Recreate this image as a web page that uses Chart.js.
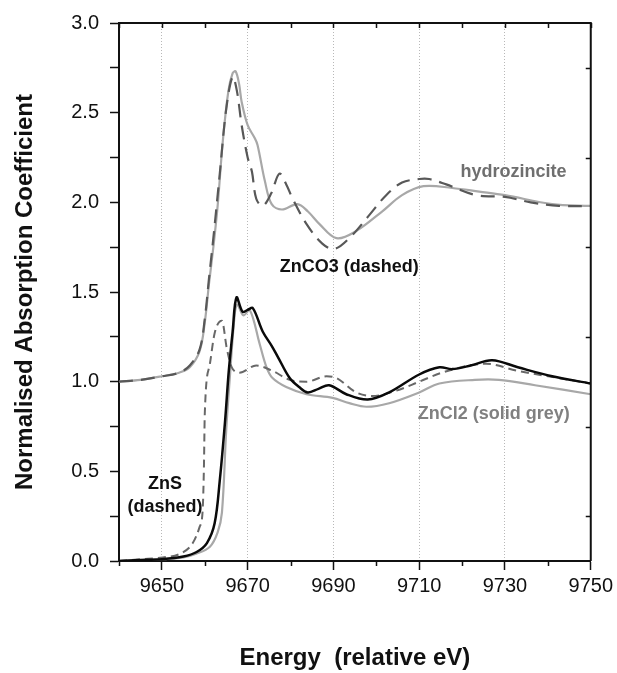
<!DOCTYPE html>
<html>
<head>
<meta charset="utf-8">
<script src="https://cdn.jsdelivr.net/npm/chart.js@4.4.1/dist/chart.umd.min.js"></script>
<style>
  body { margin: 0; background: #fff; }
  #wrap { width: 617px; height: 673px; }
</style>
</head>
<body>
<div id="wrap"><canvas id="xanes" width="617" height="673"></canvas></div>
<script>
// Zn K-edge spectra, energy (eV) vs normalised absorption
// upper pair is offset by +1
const hydrozinciteE = [9640, 9645, 9650, 9654, 9656.5, 9658.8, 9660, 9661, 9662, 9663, 9664.2, 9665.5, 9666.5, 9667.2, 9668, 9668.6, 9670, 9671.6, 9672.3, 9674, 9675.6, 9678, 9681.6, 9684, 9686.7, 9690.7, 9695.3, 9701.4, 9706, 9711, 9717.7, 9724, 9730, 9741, 9750]
const hydrozinciteMu = [1.00, 1.01, 1.03, 1.05, 1.08, 1.17, 1.33, 1.55, 1.75, 1.98, 2.34, 2.62, 2.72, 2.73, 2.66, 2.56, 2.43, 2.36, 2.32, 2.12, 1.99, 1.96, 1.99, 1.95, 1.88, 1.80, 1.84, 1.95, 2.04, 2.09, 2.08, 2.06, 2.04, 1.99, 1.98]

const znco3E = [9640, 9645, 9650, 9654, 9656.5, 9658.8, 9660, 9661, 9662, 9663.5, 9665, 9666.5, 9667.5, 9668.6, 9670, 9671, 9672, 9673.5, 9675.5, 9677.4, 9679, 9680.5, 9683.7, 9687.4, 9690.2, 9693.7, 9698.4, 9702.3, 9706, 9710, 9712.3, 9716.3, 9723.3, 9730, 9736, 9742.6, 9750]
const znco3Mu = [1.00, 1.01, 1.03, 1.05, 1.09, 1.18, 1.35, 1.58, 1.80, 2.16, 2.52, 2.70, 2.62, 2.43, 2.25, 2.17, 2.02, 1.98, 2.05, 2.16, 2.10, 2.02, 1.88, 1.77, 1.74, 1.80, 1.93, 2.04, 2.11, 2.13, 2.13, 2.10, 2.04, 2.03, 2.00, 1.98, 1.98]

const blackE = [9640, 9645, 9650, 9655, 9658.1, 9660.5, 9662.3, 9663.5, 9664.7, 9665.6, 9666.5, 9667.4, 9668.8, 9670, 9671.2, 9673.5, 9675.6, 9677, 9679.8, 9682, 9684, 9686.5, 9689, 9693, 9698, 9703, 9710, 9714.7, 9717.7, 9722, 9727, 9733, 9741, 9750]
const blackMu = [0.00, 0.005, 0.01, 0.025, 0.05, 0.10, 0.21, 0.45, 0.77, 1.06, 1.28, 1.47, 1.39, 1.40, 1.41, 1.28, 1.20, 1.14, 1.02, 0.97, 0.94, 0.96, 0.98, 0.93, 0.90, 0.94, 1.04, 1.08, 1.07, 1.09, 1.12, 1.08, 1.03, 0.99]

const zncl2E = [9640, 9650, 9655, 9658, 9661.2, 9663, 9664, 9665, 9665.8, 9667, 9667.6, 9669, 9670.5, 9672.8, 9674.4, 9675.8, 9679, 9683.7, 9689.8, 9693.7, 9697.7, 9703, 9710, 9714.7, 9723, 9728.6, 9737, 9750]
const zncl2Mu = [0.00, 0.01, 0.02, 0.04, 0.08, 0.16, 0.27, 0.73, 1.01, 1.38, 1.43, 1.37, 1.40, 1.21, 1.08, 1.02, 0.97, 0.93, 0.91, 0.88, 0.86, 0.88, 0.94, 0.99, 1.01, 1.01, 0.98, 0.93]

const znsE = [9640, 9645, 9650.2, 9654.2, 9657.2, 9658.8, 9659.5, 9659.8, 9660, 9661.2, 9662.3, 9664, 9665.1, 9666.3, 9668.1, 9672, 9675.8, 9679.8, 9683.7, 9688.4, 9690.7, 9695.3, 9699, 9704.7, 9710, 9715.3, 9725.6, 9733, 9742.6, 9750]
const znsMu = [0.00, 0.01, 0.02, 0.04, 0.10, 0.19, 0.28, 0.52, 0.82, 1.10, 1.27, 1.34, 1.19, 1.08, 1.05, 1.09, 1.06, 1.01, 1.00, 1.03, 1.02, 0.94, 0.92, 0.95, 1.00, 1.05, 1.10, 1.06, 1.02, 0.99]

// axis ticks
const xTickValues = [9650, 9670, 9690, 9710, 9730, 9750]
const xMinorValues = [9640, 9660, 9680, 9700, 9720, 9740]
const yRightTicks = [0.25, 0.75, 1.25, 1.75, 2.25, 2.75]

// curve labels placed in data coordinates
const curveLabels = ['hydrozincite', 'ZnCO3 (dashed)', 'ZnCl2 (solid grey)', 'ZnS', '(dashed)']
const labelE = [9732.0, 9693.7, 9727.4, 9650.7, 9650.7]
const labelMu = [2.17, 1.64, 0.82, 0.43, 0.30]
const labelColors = ['#6f6f6f', '#111111', '#808080', '#111111', '#111111']

const FONT = "'Liberation Sans', Arial, Helvetica, sans-serif"

const toPoints = (xs, ys) => xs.map((x, i) => ({x, y: ys[i]}))

const line = (label, xs, ys, color, width, dash, mode) => ({
    label,
    data: toPoints(xs, ys),
    borderColor: color,
    borderWidth: width,
    borderDash: dash || [],
    pointRadius: 0,
    fill: false,
    tension: 0.35,
    cubicInterpolationMode: mode || 'default',
})

// frame on top/right, minor ticks and in-plot labels
const frameAndLabels = {
    id: 'frameAndLabels',
    afterDraw(chart) {
        const {ctx, chartArea: a, scales: {x, y}} = chart
        ctx.save()
        ctx.strokeStyle = '#111'
        ctx.lineWidth = 2
        ctx.beginPath()
        ctx.moveTo(a.left, a.top)
        ctx.lineTo(a.right, a.top)
        ctx.lineTo(a.right, a.bottom)
        ctx.stroke()

        ctx.lineWidth = 1.5
        ctx.beginPath()
        // top ticks point inward every 10 eV
        xTickValues.concat(xMinorValues).forEach(v => {
            const px = Math.round(x.getPixelForValue(v)) + 0.5
            ctx.moveTo(px, a.top)
            ctx.lineTo(px, a.top + 5)
        })
        // short outward ticks between labels on the energy axis
        xMinorValues.forEach(v => {
            const px = Math.round(x.getPixelForValue(v)) + 0.5
            ctx.moveTo(px, a.bottom)
            ctx.lineTo(px, a.bottom + 5)
        })
        yRightTicks.forEach(v => {
            const py = Math.round(y.getPixelForValue(v)) + 0.5
            ctx.moveTo(a.right, py)
            ctx.lineTo(a.right - 5, py)
        })
        ctx.stroke()

        ctx.font = `bold 18px ${FONT}`
        ctx.textAlign = 'center'
        ctx.textBaseline = 'middle'
        curveLabels.forEach((t, i) => {
            ctx.fillStyle = labelColors[i]
            ctx.fillText(t, x.getPixelForValue(labelE[i]), y.getPixelForValue(labelMu[i]))
        })
        ctx.restore()
    }
}

new Chart(document.getElementById('xanes'), {
    type: 'line',
    data: {
        datasets: [
            line('black', blackE, blackMu, '#0a0a0a', 2.5),
            line('ZnS', znsE, znsMu, '#686868', 2, [8, 5], 'monotone'),
            line('ZnCl2', zncl2E, zncl2Mu, '#a8a8a8', 2.2),
            line('ZnCO3', znco3E, znco3Mu, '#585858', 2.2, [14, 8]),
            line('hydrozincite', hydrozinciteE, hydrozinciteMu, '#a8a8a8', 2.2),
        ]
    },
    options: {
        responsive: false,
        animation: false,
        layout: {padding: {top: 21, right: 25, left: 0, bottom: 0}},
        plugins: {legend: {display: false}, tooltip: {enabled: false}},
        scales: {
            x: {
                type: 'linear',
                min: 9640,
                max: 9750,
                afterBuildTicks: s => { s.ticks = xTickValues.map(value => ({value})) },
                afterFit: s => { s.height = 112 },
                ticks: {
                    color: '#111',
                    font: {family: FONT, size: 20},
                    padding: 4,
                    maxRotation: 0,
                    autoSkip: false,
                    callback: v => String(v),
                },
                grid: {
                    color: c => (c.tick && c.tick.value === 9750) ? 'rgba(0,0,0,0)' : '#b8b8b8',
                    lineWidth: 1,
                    tickColor: '#111',
                    tickWidth: 1.5,
                    tickLength: 9,
                },
                border: {color: '#111', width: 2, dash: [1, 2]},
                title: {
                    display: true,
                    text: 'Energy  (relative eV)',
                    color: '#111',
                    font: {family: FONT, size: 24, weight: 'bold'},
                    padding: {bottom: 0},
                },
            },
            y: {
                min: 0,
                max: 3,
                afterFit: s => { s.width = 119 },
                ticks: {
                    stepSize: 0.25,
                    autoSkip: false,
                    color: '#111',
                    font: {family: FONT, size: 20},
                    padding: 11,
                    callback: v => Math.abs(v * 2 - Math.round(v * 2)) < 1e-6 ? v.toFixed(1) : '',
                },
                grid: {
                    drawOnChartArea: false,
                    tickColor: '#111',
                    tickWidth: 1.5,
                    tickLength: 9,
                },
                border: {color: '#111', width: 2},
                title: {
                    display: true,
                    text: 'Normalised Absorption Coefficient',
                    color: '#111',
                    font: {family: FONT, size: 24, weight: 'bold'},
                    padding: {top: 11},
                },
            },
        },
    },
    plugins: [frameAndLabels],
})
</script>
</body>
</html>
